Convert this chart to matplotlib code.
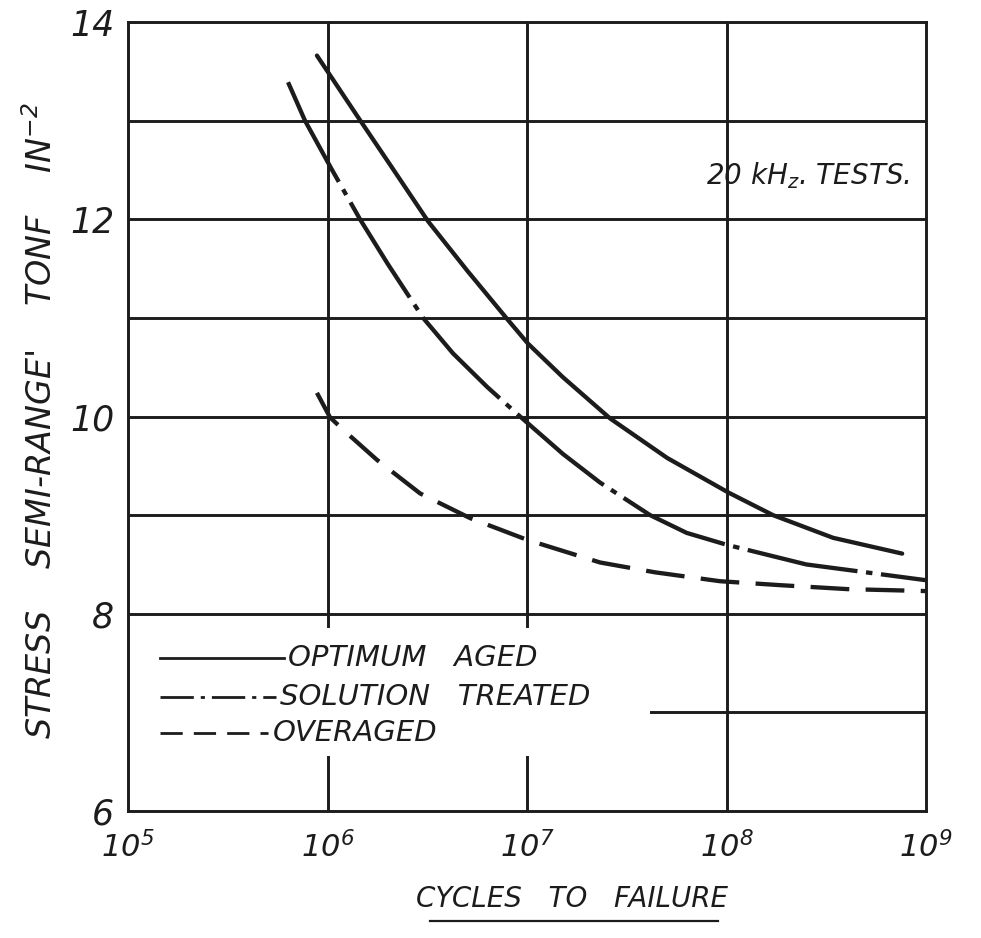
import matplotlib
matplotlib.use("Agg")
import matplotlib.pyplot as plt
from matplotlib.patches import Rectangle

# hand lettered look: oblique sans everywhere, mathtext too
plt.rcParams["font.family"] = "DejaVu Sans"
plt.rcParams["font.style"] = "oblique"
plt.rcParams["mathtext.fontset"] = "custom"
plt.rcParams["mathtext.rm"] = "DejaVu Sans:oblique"
plt.rcParams["mathtext.it"] = "DejaVu Sans:oblique"
plt.rcParams["mathtext.default"] = "rm"

# curves (cycles, stress tonf/in^2)
opt_cycles = [8.85e5, 1.054e6, 1.406e6, 2.128e6, 3.19e6, 5.01e6, 7.94e6, 1.01e7,
              1.51e7, 2.61e7, 5.04e7, 1.02e8, 1.71e8, 3.42e8, 7.59e8]
opt_stress = [13.66, 13.43, 13.05, 12.51, 11.98, 11.48, 10.99, 10.74,
              10.40, 9.98, 9.58, 9.23, 9.00, 8.77, 8.61]

sol_cycles = [6.34e5, 7.71e5, 1.054e6, 1.455e6, 2.0e6, 3.013e6, 4.256e6, 6.31e6,
              9.23e6, 1.514e7, 2.323e7, 4.14e7, 6.31e7, 1.0e8, 2.51e8, 1.0e9]
sol_stress = [13.39, 13.00, 12.50, 12.00, 11.55, 11.00, 10.64, 10.30,
              10.00, 9.62, 9.33, 9.00, 8.82, 8.70, 8.50, 8.34]

over_cycles = [8.85e5, 1.03e6, 1.253e6, 1.77e6, 2.911e6, 5.18e6, 1.0e7, 2.323e7,
               4.385e7, 9.27e7, 1.854e8, 4.018e8, 1.0e9]
over_stress = [10.24, 9.99, 9.83, 9.56, 9.22, 8.97, 8.75, 8.52,
               8.42, 8.33, 8.29, 8.25, 8.23]

x_ticks = [1e5, 1e6, 1e7, 1e8, 1e9]
x_labels = ["$10^{5}$", "$10^{6}$", "$10^{7}$", "$10^{8}$", "$10^{9}$"]
y_ticks = [6, 8, 10, 12, 14]
y_grid = [7, 8, 9, 10, 11, 12, 13]
x_grid = [1e6, 1e7, 1e8]

legend_names = ["OPTIMUM   AGED", "SOLUTION   TREATED", "OVERAGED"]

ink = "#1c1c1c"

fig = plt.figure(figsize=(9.81, 9.38), dpi=100)
ax = fig.add_axes([0.1305, 0.1354, 0.8135, 0.8411])

ax.set_xscale("log")
ax.set_xlim(1e5, 1e9)
ax.set_ylim(6, 14)

# grid drawn by hand so it sits under the legend blank-out
for y in y_grid:
    ax.axhline(y, color=ink, lw=2.1, zorder=1)
for x in x_grid:
    ax.axvline(x, color=ink, lw=2.1, zorder=1)

# legend area was left clear of grid on the original sheet
ax.add_patch(Rectangle((0.0, 0.07), 0.654, 0.162, transform=ax.transAxes,
                       facecolor="white", edgecolor="none", zorder=1.5))

ax.plot(opt_cycles, opt_stress, color=ink, lw=3.1, zorder=3,
        solid_capstyle="round", solid_joinstyle="round")
ax.plot(sol_cycles, sol_stress, color=ink, lw=3.1, zorder=3,
        dashes=(26, 2, 1.5, 2))
ax.plot(over_cycles, over_stress, color=ink, lw=3.1, zorder=3,
        dashes=(9, 3.8))

for s in ax.spines.values():
    s.set_linewidth(2.1)
    s.set_color(ink)

ax.minorticks_off()
ax.set_xticks(x_ticks)
ax.set_xticklabels(x_labels)
ax.set_yticks(y_ticks)
ax.set_yticklabels([str(v) for v in y_ticks])
ax.tick_params(length=0, colors=ink)
ax.tick_params(axis="x", labelsize=22, pad=14)
ax.tick_params(axis="y", labelsize=25, pad=10)

fig.text(0.042, 0.552, "STRESS    SEMI-RANGE'    TONF    IN$^{-2}$", fontsize=24,
         rotation=90, ha="center", va="center", color=ink)
fig.text(0.583, 0.042, "CYCLES   TO   FAILURE", fontsize=20,
         ha="center", va="center", color=ink)
# underline under the x title
fig.add_artist(plt.Line2D([0.438, 0.732], [0.018, 0.018], color=ink, lw=1.6))

ax.text(0.724, 0.805, "20 kH$_{z}$. TESTS.", transform=ax.transAxes,
        fontsize=20, color=ink, va="center")

# hand drawn legend
rows = [0.194, 0.145, 0.099]
styles = [dict(), dict(dashes=(12, 2.5, 1.5, 2.5)), dict(dashes=(8, 4))]
text_x = [0.200, 0.190, 0.181]
for name, yy, st, tx in zip(legend_names, rows, styles, text_x):
    ax.plot([0.040, tx - 0.005], [yy, yy], transform=ax.transAxes,
            color=ink, lw=2.0, zorder=3, **st)
    ax.text(tx, yy, name, transform=ax.transAxes, fontsize=21,
            color=ink, va="center", zorder=4)

fig.savefig("out.png", dpi=100)
